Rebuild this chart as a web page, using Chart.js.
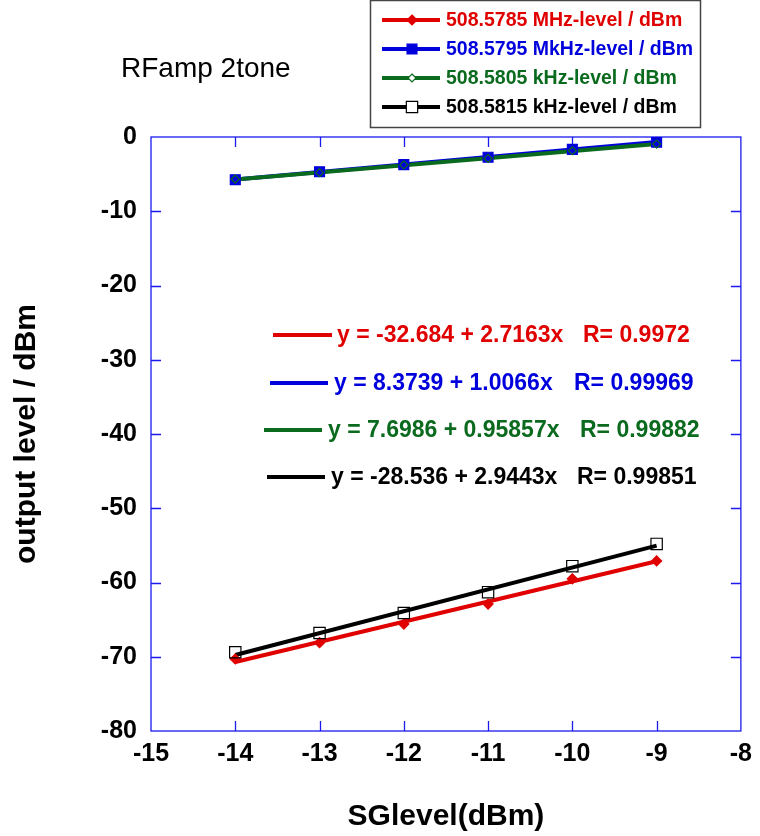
<!DOCTYPE html>
<html>
<head>
<meta charset="utf-8">
<title>RFamp 2tone</title>
<script src="https://cdn.jsdelivr.net/npm/chart.js@4/dist/chart.umd.min.js"></script>
<style>
  html, body { margin: 0; padding: 0; background: #fff; }
  #chart { display: block; }
</style>
</head>
<body>
<canvas id="chart" width="760" height="836"></canvas>
<script>
// measured output levels (dBm) against signal generator level
var sgLevel = [-14, -13, -12, -11, -10, -9];
var level5785 = [-70.3, -68.1, -65.6, -62.9, -59.5, -57.1];
var level5795 = [-5.75, -4.68, -3.72, -2.72, -1.66, -0.69];
var level5805 = [-5.68, -4.80, -3.75, -2.88, -1.85, -0.95];
var level5815 = [-69.4, -66.8, -64.1, -61.3, -57.8, -54.8];

var seriesNames = [
    '508.5785 MHz-level / dBm',
    '508.5795 MkHz-level / dBm',
    '508.5805 kHz-level / dBm',
    '508.5815 kHz-level / dBm'
];

// linear fit y = a + b*x for each series
var fitA = [-32.684, 8.3739, 7.6986, -28.536];
var fitB = [2.7163, 1.0066, 0.95857, 2.9443];
var fitR = [0.9972, 0.99969, 0.99882, 0.99851];
var fitRange = [-14, -9];

var xMin = -15, xMax = -8, xStep = 1;
var yMin = -80, yMax = 0, yStep = 10;

var colors = ['#e00000', '#0000dd', '#0a6a1e', '#000000'];
var markers = [
    { style: 'rectRot', radius: 5, fill: '#e00000', stroke: '#e00000' },
    { style: 'rect', radius: 7, fill: '#0000dd', stroke: '#0000dd' },
    { style: 'rectRot', radius: 4, fill: 'rgba(255,255,255,0)', stroke: '#0a6a1e' },
    { style: 'rect', radius: 8, fill: 'rgba(255,255,255,0)', stroke: '#000000' }
];

var FONT = '"Liberation Sans", Arial, sans-serif';
var FRAME = '#1a1aee';

function toPoints(ys) {
    return sgLevel.map(function(x, i) { return { x: x, y: ys[i] }; });
}

function fitPoints(i) {
    return fitRange.map(function(x) { return { x: x, y: fitA[i] + fitB[i] * x }; });
}

var levels = [level5785, level5795, level5805, level5815];
var datasets = [];

// fit lines underneath, blue first so green sits on top of it
[0, 1, 2, 3].forEach(function(i) {
    datasets.push({
        data: fitPoints(i),
        showLine: true,
        borderColor: colors[i],
        borderWidth: 4,
        pointRadius: 0,
        order: 10 - i
    });
});

// measured points on top
[0, 1, 2, 3].forEach(function(i) {
    datasets.push({
        data: toPoints(levels[i]),
        showLine: false,
        pointStyle: markers[i].style,
        pointRadius: markers[i].radius,
        pointBackgroundColor: markers[i].fill,
        pointBorderColor: markers[i].stroke,
        pointBorderWidth: 1.2,
        order: 4 - i
    });
});

function drawMarker(ctx, m, x, y) {
    ctx.save();
    ctx.fillStyle = m.fill === 'rgba(255,255,255,0)' ? '#fff' : m.fill;
    ctx.strokeStyle = m.stroke;
    ctx.lineWidth = 1.2;
    ctx.beginPath();
    if (m.style === 'rect') {
        var s = Math.SQRT1_2 * m.radius;
        ctx.rect(x - s, y - s, 2 * s, 2 * s);
    } else {
        var r = m.radius;
        ctx.moveTo(x, y - r);
        ctx.lineTo(x + r, y);
        ctx.lineTo(x, y + r);
        ctx.lineTo(x - r, y);
        ctx.closePath();
    }
    ctx.fill();
    ctx.stroke();
    ctx.restore();
}

// frame, inner ticks, title, legend box and fit equations
var decorations = {
    id: 'decorations',
    beforeDatasetsDraw: function(chart) {
        var ctx = chart.ctx;
        var area = chart.chartArea;
        var xs = chart.scales.x, ys = chart.scales.y;
        ctx.save();
        ctx.strokeStyle = FRAME;
        ctx.lineWidth = 1.3;
        ctx.strokeRect(area.left, area.top, area.right - area.left, area.bottom - area.top);
        ctx.beginPath();
        for (var v = xMin + xStep; v < xMax; v += xStep) {
            var px = Math.round(xs.getPixelForValue(v)) + 0.5;
            ctx.moveTo(px, area.bottom); ctx.lineTo(px, area.bottom - 10);
            ctx.moveTo(px, area.top); ctx.lineTo(px, area.top + 10);
        }
        for (var w = yMin + yStep; w < yMax; w += yStep) {
            var py = Math.round(ys.getPixelForValue(w)) + 0.5;
            ctx.moveTo(area.left, py); ctx.lineTo(area.left + 10, py);
            ctx.moveTo(area.right, py); ctx.lineTo(area.right - 10, py);
        }
        ctx.stroke();
        ctx.restore();
    },
    afterDraw: function(chart) {
        var ctx = chart.ctx;
        ctx.save();

        ctx.fillStyle = '#000';
        ctx.font = '28px ' + FONT;
        ctx.textBaseline = 'alphabetic';
        ctx.textAlign = 'left';
        ctx.fillText('RFamp 2tone', 121, 77);

        // legend
        ctx.strokeStyle = '#444';
        ctx.lineWidth = 1.5;
        ctx.strokeRect(370.5, 0.5, 330, 127);
        var rowY = [20, 49, 78, 107];
        ctx.font = 'bold 19.5px ' + FONT;
        ctx.textBaseline = 'middle';
        for (var i = 0; i < 4; i++) {
            ctx.strokeStyle = colors[i];
            ctx.lineWidth = 4;
            ctx.beginPath();
            ctx.moveTo(382, rowY[i]);
            ctx.lineTo(440, rowY[i]);
            ctx.stroke();
            drawMarker(ctx, markers[i], 412, rowY[i]);
            ctx.fillStyle = colors[i];
            ctx.fillText(seriesNames[i], 446, rowY[i] + 1);
        }

        // fit equations
        var eqY = [335, 383, 430, 477];
        var lineX = [[273, 332], [270, 328], [264, 322], [267, 325]];
        var textX = [337, 334, 328, 331];
        var rX = [583, 574, 580, 577];
        ctx.font = 'bold 23px ' + FONT;
        for (var j = 0; j < 4; j++) {
            ctx.strokeStyle = colors[j];
            ctx.lineWidth = 4;
            ctx.beginPath();
            ctx.moveTo(lineX[j][0], eqY[j]);
            ctx.lineTo(lineX[j][1], eqY[j]);
            ctx.stroke();
            ctx.fillStyle = colors[j];
            ctx.fillText('y = ' + fitA[j] + ' + ' + fitB[j] + 'x', textX[j], eqY[j] + 1);
            ctx.fillText('R= ' + fitR[j], rX[j], eqY[j] + 1);
        }
        ctx.restore();
    }
};

new Chart(document.getElementById('chart').getContext('2d'), {
    type: 'scatter',
    data: { datasets: datasets },
    plugins: [decorations],
    options: {
        responsive: false,
        animation: false,
        layout: { padding: { top: 137, right: 19, left: 0, bottom: 0 } },
        plugins: {
            legend: { display: false },
            tooltip: { enabled: false }
        },
        scales: {
            x: {
                type: 'linear',
                min: xMin,
                max: xMax,
                afterFit: function(scale) { scale.height = 105; },
                grid: { display: false, drawTicks: false },
                border: { display: false },
                ticks: {
                    stepSize: xStep,
                    padding: 8,
                    color: '#000',
                    font: { family: FONT, size: 25, weight: 'bold' }
                },
                title: {
                    display: true,
                    text: 'SGlevel(dBm)',
                    color: '#000',
                    padding: { top: 0, bottom: 1 },
                    font: { family: FONT, size: 30, weight: 'bold' }
                }
            },
            y: {
                type: 'linear',
                min: yMin,
                max: yMax,
                afterFit: function(scale) { scale.width = 151; },
                grid: { display: false, drawTicks: false },
                border: { display: false },
                ticks: {
                    stepSize: yStep,
                    padding: 14,
                    color: '#000',
                    font: { family: FONT, size: 25, weight: 'bold' }
                },
                title: {
                    display: true,
                    text: 'output level / dBm',
                    color: '#000',
                    padding: { top: 9, bottom: 0 },
                    font: { family: FONT, size: 30, weight: 'bold' }
                }
            }
        }
    }
});
</script>
</body>
</html>
